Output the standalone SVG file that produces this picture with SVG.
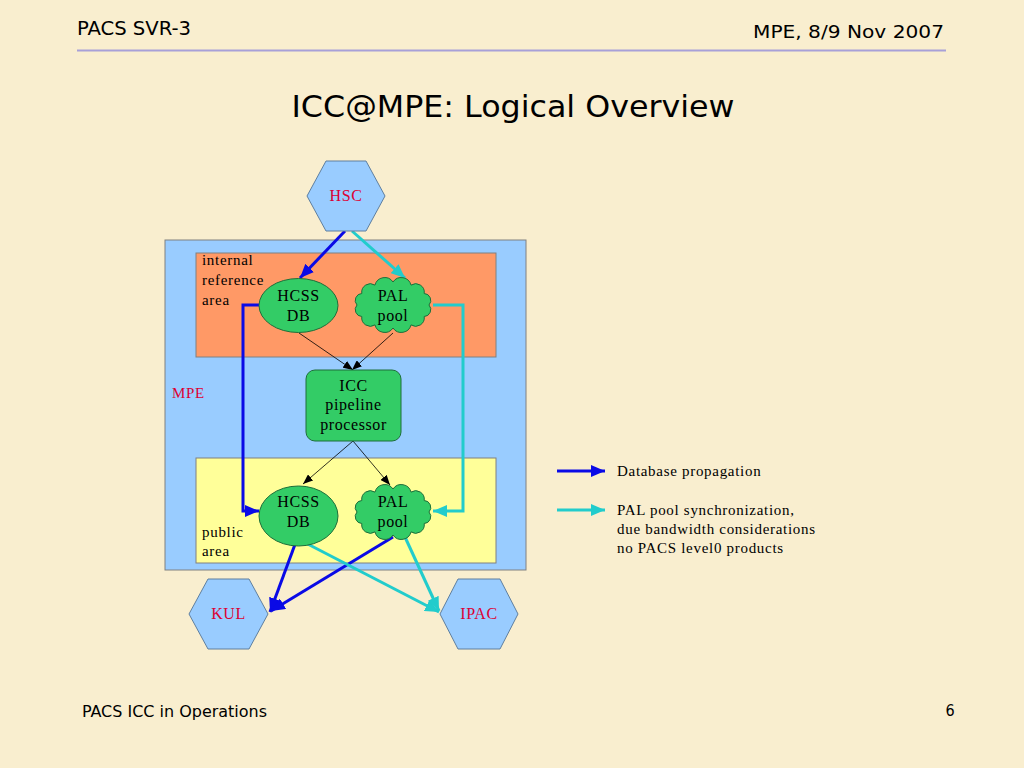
<svg xmlns="http://www.w3.org/2000/svg" width="1024" height="768" viewBox="0 0 1024 768">
<style>
.hdr{font-family:"DejaVu Sans Condensed","DejaVu Sans",sans-serif;fill:#000}
.t{font-family:"Liberation Serif","Times New Roman",serif;font-size:16px;letter-spacing:0.6px;fill:#000}
.lbl{font-family:"Liberation Serif","Times New Roman",serif;font-size:15px;letter-spacing:0.7px;fill:#000}
.red{fill:#DD0033}
.hex{fill:#99CCFF;stroke:#5F7F9F;stroke-width:1}
.node{fill:#33CC66;stroke:#1E6E3A;stroke-width:1}
.blue{stroke:#0A0AE6;stroke-width:3;fill:none}
.cyan{stroke:#22CCCC;stroke-width:3;fill:none}
.thin{stroke:#000;stroke-width:0.8;fill:none}
</style>
<defs>
<marker id="ab" markerUnits="userSpaceOnUse" markerWidth="16" markerHeight="12" refX="14" refY="6" orient="auto"><path d="M0,0 L14,6 L0,12 z" fill="#0A0AE6"/></marker>
<marker id="ac" markerUnits="userSpaceOnUse" markerWidth="16" markerHeight="12" refX="14" refY="6" orient="auto"><path d="M0,0 L14,6 L0,12 z" fill="#22CCCC"/></marker>
<marker id="ak" markerUnits="userSpaceOnUse" markerWidth="11" markerHeight="8" refX="10" refY="4" orient="auto"><path d="M0,0 L10,4 L0,8 z" fill="#000"/></marker>
<path id="cloud" d="M36,0 A6.9,6.9 0 0 1 31.2,11.5 A8.6,8.6 0 0 1 18,19.9 A10,10 0 0 1 0,23 A10,10 0 0 1 -18,19.9 A8.6,8.6 0 0 1 -31.2,11.5 A6.9,6.9 0 0 1 -36,0 A6.9,6.9 0 0 1 -31.2,-11.5 A8.6,8.6 0 0 1 -18,-19.9 A10,10 0 0 1 0,-23 A10,10 0 0 1 18,-19.9 A8.6,8.6 0 0 1 31.2,-11.5 A6.9,6.9 0 0 1 36,0 z"/>
</defs>
<rect width="1024" height="768" fill="#F9EECF"/>
<g id="header">
<text class="hdr" x="77" y="35" font-size="19" textLength="114" lengthAdjust="spacingAndGlyphs">PACS SVR-3</text>
<text class="hdr" x="944" y="38" font-size="18.5" text-anchor="end" textLength="191" lengthAdjust="spacingAndGlyphs">MPE, 8/9 Nov 2007</text>
<line x1="77" y1="50.5" x2="946" y2="50.5" stroke="#A8A0D8" stroke-width="2"/>
<text class="hdr" x="513" y="117" font-size="31" text-anchor="middle" textLength="443" lengthAdjust="spacingAndGlyphs">ICC@MPE: Logical Overview</text>
</g>
<g id="footer">
<text class="hdr" x="82" y="717" font-size="16" textLength="185" lengthAdjust="spacingAndGlyphs">PACS ICC in Operations</text>
<text class="hdr" x="950" y="716" font-size="16" text-anchor="middle">6</text>
</g>
<g id="mpe">
<rect x="165" y="240" width="361" height="330" fill="#99CCFF" stroke="#808080" stroke-width="1"/>
<text class="lbl red" x="172" y="398">MPE</text>
</g>
<g id="internal-area">
<rect x="196" y="253" width="300" height="104" fill="#FF9966" stroke="#808080" stroke-width="1"/>
<text class="lbl" x="202" y="265">internal</text>
<text class="lbl" x="202" y="285">reference</text>
<text class="lbl" x="202" y="305">area</text>
</g>
<g id="public-area">
<rect x="196" y="458" width="300" height="105" fill="#FFFF99" stroke="#808080" stroke-width="1"/>
<text class="lbl" x="202" y="537">public</text>
<text class="lbl" x="202" y="556">area</text>
</g>
<g id="connectors">
<line class="blue" x1="345" y1="231" x2="300" y2="278" marker-end="url(#ab)"/>
<polyline class="blue" points="259,305 243,305 243,511 259,511" marker-end="url(#ab)"/>
<line class="blue" x1="297" y1="539" x2="270" y2="612" marker-end="url(#ab)"/>
<line class="blue" x1="393" y1="537" x2="271" y2="611" marker-end="url(#ab)"/>
<line class="cyan" x1="352" y1="231" x2="405" y2="278" marker-end="url(#ac)"/>
<polyline class="cyan" points="433,305 463,305 463,511 433,511" marker-end="url(#ac)"/>
<line class="cyan" x1="298" y1="539" x2="439" y2="612" marker-end="url(#ac)"/>
<line class="cyan" x1="405" y1="537" x2="439" y2="611" marker-end="url(#ac)"/>
<line class="thin" x1="299" y1="333" x2="353" y2="370" marker-end="url(#ak)"/>
<line class="thin" x1="393" y1="333" x2="352" y2="370" marker-end="url(#ak)"/>
<line class="thin" x1="353" y1="441" x2="303" y2="484" marker-end="url(#ak)"/>
<line class="thin" x1="353" y1="441" x2="390" y2="485" marker-end="url(#ak)"/>
</g>
<g id="hsc">
<polygon class="hex" points="307,196 326,161 366,161 385,196 366,231 326,231"/>
<text class="t red" x="346" y="201" text-anchor="middle">HSC</text>
</g>
<g id="hcss-db-internal">
<ellipse class="node" cx="298.5" cy="305.5" rx="39.5" ry="27"/>
<text class="t" x="298.5" y="301" text-anchor="middle">HCSS</text>
<text class="t" x="298.5" y="321" text-anchor="middle">DB</text>
</g>
<g id="pal-pool-internal">
<use href="#cloud" transform="translate(393,305)" class="node"/>
<text class="t" x="393" y="301" text-anchor="middle">PAL</text>
<text class="t" x="393" y="321" text-anchor="middle">pool</text>
</g>
<g id="icc-pipeline">
<rect x="306" y="370" width="95" height="71" rx="9" class="node"/>
<text class="t" x="353.5" y="391" text-anchor="middle">ICC</text>
<text class="t" x="353.5" y="410" text-anchor="middle">pipeline</text>
<text class="t" x="353.5" y="430" text-anchor="middle">processor</text>
</g>
<g id="hcss-db-public">
<ellipse class="node" cx="298.5" cy="516" rx="39.5" ry="30"/>
<text class="t" x="298.5" y="507" text-anchor="middle">HCSS</text>
<text class="t" x="298.5" y="527" text-anchor="middle">DB</text>
</g>
<g id="pal-pool-public">
<use href="#cloud" transform="translate(393,512)" class="node"/>
<text class="t" x="393" y="507" text-anchor="middle">PAL</text>
<text class="t" x="393" y="527" text-anchor="middle">pool</text>
</g>
<g id="kul">
<polygon class="hex" points="189,614 208,579 249,579 268,614 249,649 208,649"/>
<text class="t red" x="228.5" y="619" text-anchor="middle">KUL</text>
</g>
<g id="ipac">
<polygon class="hex" points="440,614 458,579 500,579 518,614 500,649 458,649"/>
<text class="t red" x="479" y="619" text-anchor="middle">IPAC</text>
</g>
<g id="legend">
<line class="blue" x1="557" y1="471" x2="605" y2="471" marker-end="url(#ab)"/>
<text class="lbl" x="617" y="476">Database propagation</text>
<line class="cyan" x1="557" y1="510" x2="605" y2="510" marker-end="url(#ac)"/>
<text class="lbl" x="617" y="515">PAL pool synchronization,</text>
<text class="lbl" x="617" y="534">due bandwidth considerations</text>
<text class="lbl" x="617" y="553">no PACS level0 products</text>
</g>
</svg>
